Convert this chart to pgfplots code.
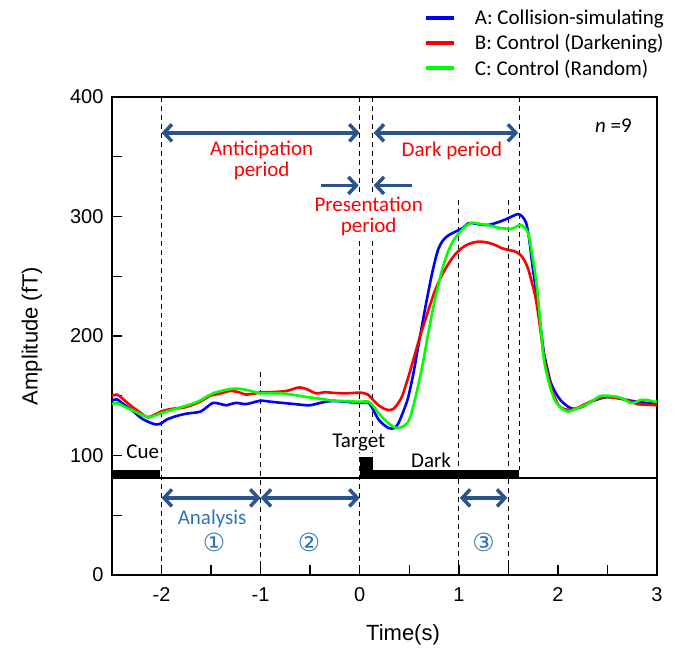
\documentclass[border=0pt]{standalone}
\usepackage{fontspec}
\usepackage{pgfplots}
\pgfplotsset{compat=1.18}
\usetikzlibrary{arrows.meta}
\setmainfont{Liberation Sans}
\newfontfamily\cali{Carlito}
\newfontfamily\dejavu{DejaVu Sans}
\definecolor{arrowblue}{RGB}{44,84,140}
\definecolor{lblue}{RGB}{46,117,182}
\definecolor{cgreen}{RGB}{0,255,0}
\definecolor{cred}{RGB}{255,0,0}
\definecolor{cblue}{RGB}{0,0,255}
\tikzset{
  varr/.style={draw=arrowblue, line width=3.5pt, {Straight Barb[length=8pt,width=17pt]}-{Straight Barb[length=8pt,width=17pt]}},
  sarr/.style={draw=arrowblue, line width=3.5pt, -{Straight Barb[length=8pt,width=17pt]}},
  vd/.style={black, line width=1.3pt, dash pattern=on 5pt off 4pt},
  ann/.style={font=\cali\fontsize{21}{20.5}\selectfont, align=center, inner sep=1pt},
}
\begin{document}
\begin{tikzpicture}
\begin{axis}[
  scale only axis, width=545pt, height=478pt,
  xmin=-2.5, xmax=3, ymin=0, ymax=400,
  axis line style={line width=1.6pt},
  tick align=inside, tick pos=left,
  major tick length=10pt, minor tick length=10pt,
  every tick/.style={black, line width=1.4pt},
  xtick={-2,-1,0,1,2,3}, xticklabels={-2,-1,0,1,2,3},
  minor xtick={-1.5,-0.5,0.5,1.5,2.5},
  ytick={0,100,200,300,400}, yticklabels={0,100,200,300,400},
  minor ytick={50,150,250,350},
  ticklabel style={font=\fontsize{20}{20}\selectfont},
  xticklabel style={yshift=-9pt},
  yticklabel style={xshift=-5pt},
  xlabel={Time(s)}, ylabel={Amplitude (fT)},
  every axis x label/.style={at={(axis description cs:0.534,-0.125)}, anchor=center, font=\fontsize{22}{22}\selectfont},
  every axis y label/.style={at={(axis description cs:-0.147,0.5)}, rotate=90, anchor=center, font=\fontsize{22}{22}\selectfont},
  legend style={at={(axis description cs:0.572,1.187)}, anchor=north west, draw=none, fill=none,
    font=\cali\fontsize{21}{21}\selectfont, row sep=4.5pt, inner sep=0pt},
  legend cell align=left,
  legend image code/.code={\draw[#1, line width=4pt] (0pt,0pt) -- (28pt,0pt); \path[draw=none, fill=none] (28pt,0pt) -- (47pt,0pt);},
]
% stimulus bars
\addplot[fill=black, draw=none, forget plot] coordinates {(-2.5,81) (-2.5,88) (-2.02,88) (-2.02,81)} -- cycle;
\addplot[fill=black, draw=none, forget plot] coordinates {(0,81) (0,99) (0.13,99) (0.13,81)} -- cycle;
\addplot[fill=black, draw=none, forget plot] coordinates {(0.13,81) (0.13,88) (1.61,88) (1.61,81)} -- cycle;
\draw[line width=1.5pt] (axis cs:-2.5,81) -- (axis cs:3,81);
% dashed lines
\draw[vd] (axis cs:-2,400) -- (axis cs:-2,0);
\draw[vd] (axis cs:-1,170) -- (axis cs:-1,0);
\draw[vd] (axis cs:0,400) -- (axis cs:0,0);
\draw[vd] (axis cs:0.13,400) -- (axis cs:0.13,99);
\draw[vd] (axis cs:1,314) -- (axis cs:1,0);
\draw[vd] (axis cs:1.5,314) -- (axis cs:1.5,0);
\draw[vd] (axis cs:1.61,400) -- (axis cs:1.61,88);
% curves
\addplot[cblue, line width=2.6pt, smooth] coordinates {
(-2.5,146) (-2.45,147) (-2.4,144) (-2.3,138) (-2.2,131) (-2.1,127) (-2.05,126) (-2.0,127)
(-1.95,130) (-1.85,133) (-1.75,135) (-1.65,136) (-1.6,137) (-1.55,140) (-1.48,144) (-1.4,143)
(-1.35,142) (-1.25,144) (-1.15,143) (-1.05,145) (-1.0,146) (-0.9,145) (-0.78,144) (-0.65,143)
(-0.51,142) (-0.4,144) (-0.28,145.6) (-0.15,145) (0.0,144) (0.09,144) (0.15,136) (0.2,129)
(0.29,123) (0.35,123) (0.39,127) (0.45,139) (0.49,149) (0.54,168) (0.59,191) (0.64,214)
(0.69,236) (0.74,256) (0.79,272) (0.84,280) (0.90,284.5) (1.0,288.7) (1.05,291) (1.10,294.5)
(1.17,294) (1.23,293) (1.30,293) (1.37,294.5) (1.44,296.5) (1.50,298.6) (1.56,301) (1.60,302)
(1.64,300) (1.68,294.5) (1.71,281) (1.74,261) (1.77,243) (1.80,224.5) (1.83,204) (1.86,185.6)
(1.90,170) (1.93,160.6) (1.98,152) (2.03,146) (2.1,141) (2.16,139) (2.25,141) (2.33,145)
(2.42,147.5) (2.5,149) (2.6,148) (2.7,146.4) (2.8,145) (2.9,144) (3.0,144)
};
\addlegendentry{A: Collision-simulating}
\addplot[cred, line width=2.6pt, smooth] coordinates {
(-2.5,150) (-2.45,151) (-2.4,148) (-2.3,141) (-2.2,135) (-2.14,132) (-2.05,135) (-2.0,137)
(-1.9,139) (-1.78,140) (-1.7,142) (-1.61,145) (-1.55,148) (-1.51,150) (-1.4,152) (-1.31,154)
(-1.22,153) (-1.15,151) (-1.05,152) (-1.0,153) (-0.9,153) (-0.74,154) (-0.61,157) (-0.52,155)
(-0.44,152) (-0.35,153) (-0.28,152.5) (-0.15,152) (0.0,152.6) (0.05,152) (0.09,150.6) (0.14,146)
(0.19,142) (0.25,139) (0.29,138) (0.34,139) (0.39,144) (0.43,150) (0.46,157.6) (0.51,171)
(0.56,185.7) (0.61,200) (0.66,213) (0.71,226) (0.76,238) (0.83,251) (0.90,261) (0.96,268)
(1.03,273.6) (1.10,277) (1.20,279) (1.30,278) (1.37,276) (1.43,273.6) (1.50,272) (1.56,271)
(1.62,268) (1.66,263.6) (1.70,256) (1.73,247) (1.77,234) (1.80,219) (1.83,201) (1.86,182.7)
(1.90,167) (1.93,157.6) (1.97,148) (2.02,140.8) (2.08,138.5) (2.13,138) (2.2,140) (2.30,144)
(2.4,147.5) (2.47,149) (2.55,148.5) (2.63,148) (2.72,145.5) (2.80,143) (2.9,142.5) (3.0,142)
};
\addlegendentry{B: Control (Darkening)}
\addplot[cgreen, line width=2.6pt, smooth] coordinates {
(-2.5,143) (-2.45,144) (-2.4,142) (-2.3,138) (-2.2,134) (-2.13,132) (-2.05,134) (-2.0,135.6)
(-1.9,138) (-1.78,141) (-1.7,143) (-1.61,146) (-1.55,149) (-1.48,152) (-1.4,154) (-1.35,155)
(-1.25,156) (-1.15,155) (-1.05,153) (-1.0,152) (-0.9,152) (-0.78,152) (-0.65,150.5) (-0.54,149)
(-0.4,147.5) (-0.28,146) (-0.15,145.5) (0.0,145) (0.09,145) (0.14,141) (0.19,135.5) (0.24,131)
(0.29,127) (0.34,124) (0.39,123) (0.46,125.5) (0.5,130) (0.53,138) (0.58,155) (0.63,174)
(0.68,197) (0.73,219) (0.78,238) (0.83,255) (0.88,268) (0.93,277.6) (0.98,284) (1.03,288.7)
(1.08,292.5) (1.13,294.8) (1.20,294) (1.27,293) (1.34,292) (1.40,290.6) (1.46,290) (1.52,289.5)
(1.57,291) (1.62,293) (1.66,291) (1.70,286) (1.73,273) (1.77,252.5) (1.80,232) (1.82,213)
(1.86,180) (1.90,164) (1.93,154.8) (1.97,146) (2.02,140.8) (2.06,138) (2.10,136.7) (2.18,139)
(2.27,142) (2.35,146) (2.43,149.8) (2.5,150) (2.60,149) (2.67,147) (2.73,144) (2.78,144.5)
(2.83,146.4) (2.9,146.5) (2.97,145) (3.0,145)
};
\addlegendentry{C: Control (Random)}
% arrows
\draw[varr] (axis cs:-2,370) -- (axis cs:0,370);
\draw[varr] (axis cs:0.14,370) -- (axis cs:1.6,370);
\draw[sarr] (axis cs:-0.39,326) -- (axis cs:-0.01,326);
\draw[sarr] (axis cs:0.53,326) -- (axis cs:0.14,326);
\draw[varr] (axis cs:-2,64.5) -- (axis cs:-1,64.5);
\draw[varr] (axis cs:-1,64.5) -- (axis cs:0,64.5);
\draw[varr] (axis cs:1.01,64.5) -- (axis cs:1.49,64.5);
% texts
\node[ann, text=cred] at (axis cs:-0.99,347) {Anticipation\\period};
\node[ann, text=cred] at (axis cs:0.93,355) {Dark period};
\node[ann, text=cred, fill=white] at (axis cs:0.09,300) {Presentation\\period};
\node[ann] at (axis cs:2.56,376) {{\itshape n} =9};
\node[ann] at (axis cs:-2.19,103) {Cue};
\node[ann, fill=white] at (axis cs:-0.01,111) {Target};
\node[ann] at (axis cs:0.72,96) {Dark};
\node[ann, text=lblue] at (axis cs:-1.49,47) {Analysis};
\node[text=lblue, font=\dejavu\fontsize{25}{25}\selectfont, inner sep=0pt] at (axis cs:-1.47,27) {①};
\node[text=lblue, font=\dejavu\fontsize{25}{25}\selectfont, inner sep=0pt] at (axis cs:-0.51,27) {②};
\node[text=lblue, font=\dejavu\fontsize{25}{25}\selectfont, inner sep=0pt] at (axis cs:1.25,27) {③};
\end{axis}
\pgfresetboundingbox
\path (-112pt,-78pt) rectangle (570pt,575pt);
\end{tikzpicture}
\end{document}
